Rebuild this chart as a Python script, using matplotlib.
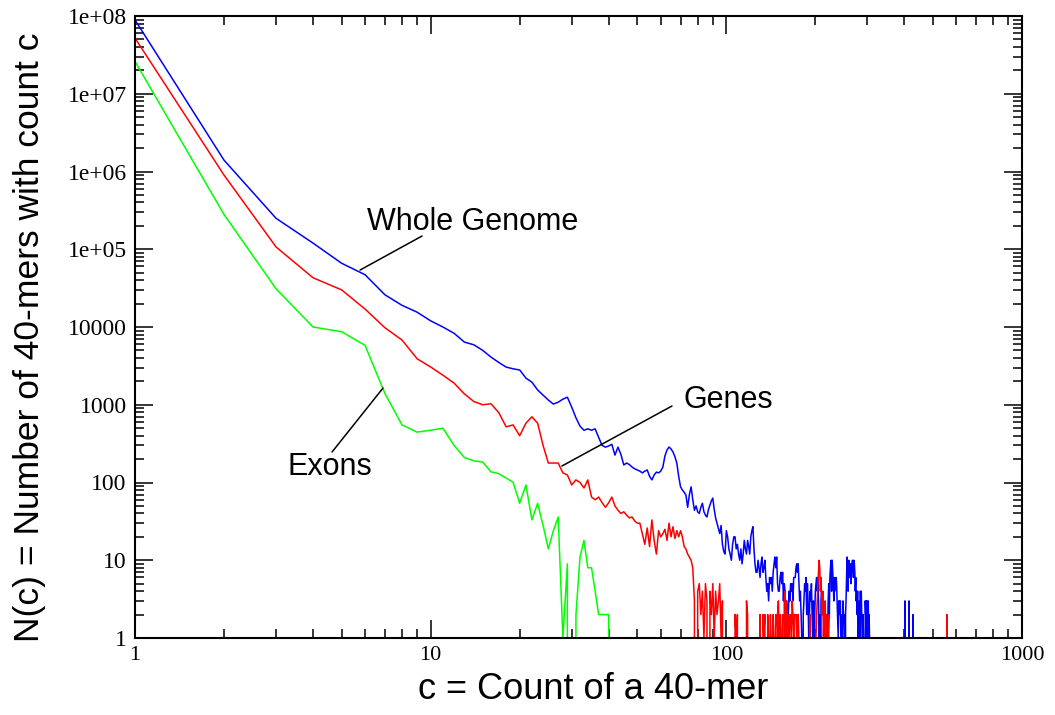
import numpy as np
import matplotlib
matplotlib.use("Agg")
import matplotlib.pyplot as plt
from matplotlib.ticker import LogLocator, FixedLocator, FixedFormatter, NullFormatter

# ---------------- data: N(c) for c = 1, 2, 3, ... ----------------
genome_counts = [
    8.9e7, 1.4e6, 2.5e5, 1.2e5, 6.6e4, 4.7e4, 2.6e4, 1.9e4, 1.55e4, 1.2e4,
    1.0e4, 8.3e3, 6.4e3, 5.9e3, 5.0e3, 4.1e3, 3.5e3, 3.05e3, 2.9e3, 2.8e3,
    2.2e3, 1.95e3, 1.55e3, 1.33e3, 1.15e3, 1.02e3, 1.08e3, 1.18e3, 1.25e3, 930,
    680, 530, 470, 490, 470, 490, 380, 300, 285, 295,
    310, 225, 285, 230, 168, 178, 170, 158, 150, 145,
    140, 133, 140, 145, 120, 108, 125, 136, 133, 140,
    158, 220, 262, 286, 270, 247, 215, 178, 120, 88,
    80, 75, 69, 48, 70, 88, 60, 44, 50, 42,
    40, 48, 54, 42, 38, 36, 45, 51, 58, 63,
    45, 35, 30, 26, 22, 28, 16, 13, 12, 24,
    20, 14, 12, 10, 16, 20, 20, 14, 16, 12,
    10, 14, 9, 12, 18, 14, 12, 18, 15, 12,
    20, 24, 27, 14, 9, 7, 7, 10, 8, 6,
    9, 11, 7, 8, 10, 6, 4, 5, 3, 6,
    5, 6, 4, 7, 9, 11, 8, 11, 5, 4,
    4, 6, 7, 5, 7, 3, 5, 4, 2, 3,
    2, 2, 4, 3, 5, 4, 5, 3, 6, 6,
    6, 8, 9, 7, 9, 5, 3, 4, 2, 1,
    0, 2, 3, 5, 4, 6, 2, 5, 3, 1,
    2, 4, 3, 5, 2, 1, 3, 0, 2, 4,
    5, 6, 4, 6, 3, 1, 2, 0, 3, 4,
    3, 2, 3, 1, 0, 2, 1, 2, 0, 1,
    3, 5, 2, 6, 8, 10, 4, 10, 7, 5,
    3, 6, 4, 5, 6, 5, 3, 2, 1, 3,
    3, 2, 3, 1, 0, 2, 1, 3, 2, 2,
    1, 0, 2, 3, 6, 11, 9, 4, 8, 10,
    6, 9, 8, 5, 9, 7, 10, 8, 6, 10,
    9, 7, 4, 6, 3, 4, 2, 4, 1, 2,
    2, 3, 1, 4, 2, 4, 2, 1, 0, 2,
    1, 0, 1, 0, 3, 2, 3, 1, 3, 2,
    1, 3, 1, 2, 1, 1, 0, 0, 0, 0,
]
genome_extra_c = [401, 402, 403, 414, 415, 416, 427, 428, 429]
genome_extra_n = [0, 3, 0, 0, 3, 0, 0, 2, 0]

genes_counts = [
    5.2e7, 9.0e5, 1.07e5, 4.3e4, 3.0e4, 1.7e4, 9.8e3, 6.8e3, 3.9e3, 3.06e3,
    2.4e3, 1.9e3, 1.38e3, 1.1e3, 1.0e3, 1.03e3, 790, 520, 550, 400,
    580, 700, 580, 300, 178, 178, 178, 133, 125, 93,
    108, 100, 85, 108, 65, 60, 65, 55, 48, 55,
    65, 50, 44, 40, 42, 38, 35, 36, 32, 30,
    30, 22, 16, 26, 15, 33, 18, 12, 24, 20,
    22, 25, 18, 30, 20, 27, 19, 24, 20, 24,
    20, 15, 14, 12, 11, 10, 8, 3, 0, 4,
    5, 2, 4, 1, 5, 3, 0, 4, 2, 5,
    1, 4, 2, 3, 5, 1, 3, 0, 0, 0,
    0, 1, 0, 0, 0, 0, 2, 1, 2, 0,
    0, 0, 0, 0, 0, 0, 3, 2, 0, 0,
    0, 0, 0, 0, 0, 0, 0, 0, 0, 2,
    0, 0, 2, 1, 2, 0, 0, 2, 1, 0,
    2, 0, 1, 2, 0, 1, 2, 0, 2, 3,
    1, 2, 0, 1, 2, 0, 3, 4, 1, 3,
    1, 2, 1, 2, 2, 1, 3, 2, 1, 2,
    2, 2, 1, 2, 2, 1, 0, 0, 0, 0,
    0, 0, 0, 0, 1, 0, 0, 0, 0, 0,
    0, 2, 0, 0, 0, 0, 0, 0, 0, 0,
    1, 2, 3, 5, 7, 10, 8, 4, 6, 3,
    2, 4, 1, 2, 0, 3, 1, 2, 0, 0,
    1, 2, 0,
]
genes_extra_c = [556, 557, 558]
genes_extra_n = [0, 2, 0]

exons_counts = [
    2.6e7, 2.8e5, 3.1e4, 1.0e4, 8.7e3, 5.8e3, 1.4e3, 550, 445, 470,
    500, 300, 210, 190, 183, 137, 130, 114, 101, 54,
    93, 33, 54, 28, 14, 24, 36, 1, 9, 0,
    2, 11, 18, 8, 8, 4, 2, 2, 2, 2,
    0,
]

x_tick_values = [1, 10, 100, 1000]
x_tick_labels = ["1", "10", "100", "1000"]
y_tick_values = [1, 10, 100, 1000, 1e4, 1e5, 1e6, 1e7, 1e8]
y_tick_labels = ["1", "10", "100", "1000", "10000", "1e+05", "1e+06", "1e+07", "1e+08"]


def series(counts, extra_c=(), extra_n=()):
    c = list(range(1, len(counts) + 1)) + list(extra_c)
    n = list(counts) + list(extra_n)
    return np.array(c, dtype=float), np.array(n, dtype=float)


W, H = 1055, 715
fig = plt.figure(figsize=(W / 100, H / 100), dpi=100)
L, R, T, B = 135, 1022, 16, 638
ax = fig.add_axes([L / W, 1 - B / H, (R - L) / W, (B - T) / H])

gc, gn = series(genome_counts, genome_extra_c, genome_extra_n)
rc, rn = series(genes_counts, genes_extra_c, genes_extra_n)
ec, en = series(exons_counts)

ax.plot(gc, gn, color="#0000ff", lw=1.1)
ax.plot(rc, rn, color="#ff0000", lw=1.1)
ax.plot(ec, en, color="#00ff00", lw=1.1)

ax.set_xscale("log", nonpositive="clip")
ax.set_yscale("log", nonpositive="clip")
ax.set_xlim(1, 1000)
ax.set_ylim(1, 1e8)

ax.xaxis.set_major_locator(FixedLocator(x_tick_values))
ax.xaxis.set_major_formatter(FixedFormatter(x_tick_labels))
ax.yaxis.set_major_locator(FixedLocator(y_tick_values))
ax.yaxis.set_major_formatter(FixedFormatter(y_tick_labels))
ax.xaxis.set_minor_locator(LogLocator(base=10, subs=np.arange(2, 10), numticks=20))
ax.yaxis.set_minor_locator(LogLocator(base=10, subs=np.arange(2, 10), numticks=20))
ax.xaxis.set_minor_formatter(NullFormatter())
ax.yaxis.set_minor_formatter(NullFormatter())

ax.tick_params(which="both", direction="in", top=True, right=True, color="black")
ax.tick_params(which="major", length=13, width=1.1)
ax.tick_params(which="minor", length=6.5, width=1.1)
ax.tick_params(axis="x", which="major", pad=6)
ax.tick_params(axis="y", which="major", pad=6)
for lab in ax.get_xticklabels():
    lab.set_fontfamily("Liberation Serif")
    lab.set_fontsize(16)
for lab in ax.get_yticklabels():
    lab.set_fontfamily("Liberation Serif")
    lab.set_fontsize(17)
for s in ax.spines.values():
    s.set_linewidth(1.5)

ax.set_xlabel("c = Count of a 40-mer", fontfamily="Liberation Sans", fontsize=26)
ax.xaxis.set_label_coords(0.517, -0.055, transform=ax.transAxes)
ax.xaxis.label.set_va("top")
ax.set_ylabel("N(c) = Number of 40-mers with count c", fontfamily="Liberation Sans",
              fontsize=25.5)
ax.yaxis.set_label_coords(-0.100, 0.484, transform=ax.transAxes)

ann = dict(fontfamily="Liberation Sans", fontsize=22, va="center", ha="left")
ax.annotate("", xy=(5.77, 5.4e4), xytext=(9.35, 1.48e5),
            arrowprops=dict(arrowstyle="-", color="black", lw=1.1, shrinkA=0, shrinkB=0))
ax.text(6.09, 2.24e5, "Whole Genome", **ann)
ax.annotate("", xy=(27.8, 163), xytext=(65.5, 964),
            arrowprops=dict(arrowstyle="-", color="black", lw=1.1, shrinkA=0, shrinkB=0))
ax.text(71.9, 1150, "Genes", **ann)
ax.annotate("", xy=(6.9, 1641), xytext=(4.64, 247),
            arrowprops=dict(arrowstyle="-", color="black", lw=1.1, shrinkA=0, shrinkB=0))
ax.text(3.27, 158, "Exons", **ann)

fig.savefig("out.png", dpi=100)
